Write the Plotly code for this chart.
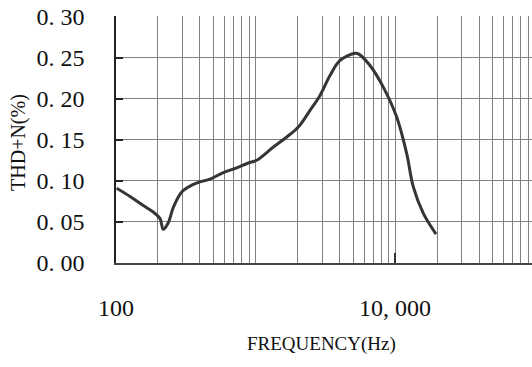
import plotly.graph_objects as go

# THD+N versus frequency
freq_hz = [101, 126, 157, 185, 207, 218, 237, 258, 296, 349, 400, 472, 588, 733,
           888, 1020, 1343, 1675, 2028, 2459, 2900, 3420, 4036, 5170, 5460, 6620,
           8240, 10280, 12130, 13530, 15960, 19680]
thd_pct = [0.091, 0.081, 0.070, 0.062, 0.054, 0.041, 0.049, 0.068, 0.0865, 0.0947,
           0.0987, 0.102, 0.110, 0.1157, 0.1217, 0.125, 0.1411, 0.1533, 0.1654,
           0.1857, 0.2039, 0.228, 0.2464, 0.2552, 0.2545, 0.2403, 0.214, 0.1776,
           0.1331, 0.0926, 0.0603, 0.0352]

y_ticks = [0.0, 0.05, 0.10, 0.15, 0.20, 0.25, 0.30]
y_tick_text = ["0. 00", "0. 05", "0. 10", "0. 15", "0. 20", "0. 25", "0. 30"]
x_ticks = [100, 10000]
x_tick_text = ["100", "10, 000"]
x_minor_grid = [m * 10 ** d for d in (2, 3, 4) for m in range(2, 10)] + [1000]

FONT = "Liberation Serif"
GRID = "#7f7f7f"

fig = go.Figure()
fig.add_trace(go.Scatter(
    x=freq_hz, y=thd_pct, mode="lines",
    line=dict(color="#353535", width=3, shape="spline", smoothing=1.0),
    showlegend=False, hoverinfo="skip",
))

fig.update_xaxes(
    type="log", range=[2, 4.982],
    tickvals=x_ticks, ticktext=x_tick_text,
    ticks="inside", ticklen=10, tickwidth=1.5, tickcolor="#333",
    ticklabelstandoff=22,
    tickfont=dict(family=FONT, size=24, color="#111"),
    showgrid=True, gridcolor=GRID, gridwidth=1,
    minor=dict(tickvals=x_minor_grid, showgrid=True, gridcolor=GRID, gridwidth=1, ticks=""),
    showline=True, linecolor="#444", linewidth=2,
    zeroline=False,
)
fig.update_yaxes(
    range=[0, 0.3005],
    tickvals=y_ticks, ticktext=y_tick_text,
    ticks="inside", ticklen=7, tickwidth=1.5, tickcolor="#222",
    ticklabelstandoff=25,
    tickfont=dict(family=FONT, size=24, color="#111"),
    showgrid=True, gridcolor=GRID, gridwidth=1,
    showline=True, linecolor="#222", linewidth=1.5,
    zeroline=False,
)

fig.add_annotation(
    text="THD+N(%)", textangle=-90, showarrow=False,
    xref="paper", yref="paper", x=-0.2332, y=0.49,
    xanchor="center", yanchor="middle",
    font=dict(family=FONT, size=20, color="#111"),
)
fig.add_annotation(
    text="FREQUENCY(Hz)", showarrow=False,
    xref="paper", yref="paper", x=0.495, y=-0.328,
    xanchor="center", yanchor="middle",
    font=dict(family=FONT, size=19, color="#111"),
)

fig.update_layout(
    width=532, height=367,
    margin=dict(l=116, r=0, t=16, b=104),
    paper_bgcolor="white", plot_bgcolor="white",
)

fig.write_html("out.html")
